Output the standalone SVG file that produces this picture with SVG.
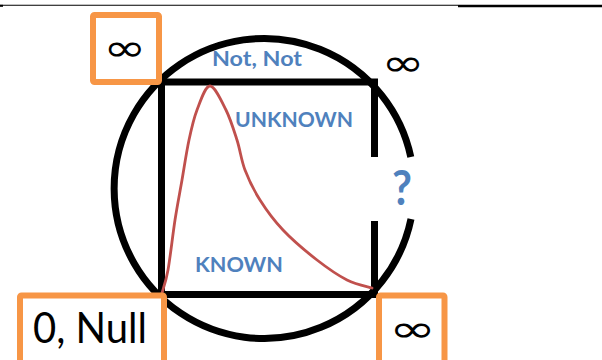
<svg xmlns="http://www.w3.org/2000/svg" width="602" height="360" viewBox="0 0 602 360">
  <style>
    .box { fill: #ffffff; stroke: #F79646; stroke-width: 6; }
    .frame { fill: none; stroke: #000000; stroke-width: 7; stroke-linejoin: miter; }
    .lbl { font-family: Lato, "Open Sans", "Liberation Sans", sans-serif; font-weight: bold; fill: #4F81BD; }
    .inf { font-family: "DejaVu Sans", sans-serif; fill: #000000; text-anchor: middle; }
    .big { font-family: Lato, "Open Sans", "Liberation Sans", sans-serif; fill: #000000; }
  </style>
  <rect width="602" height="360" fill="#ffffff"/>
  <g id="header-rule">
    <line x1="0" y1="5.3" x2="458" y2="5.3" stroke="#000" stroke-width="1.1"/>
    <line x1="0" y1="5.8" x2="3" y2="5.8" stroke="#000" stroke-width="2"/>
    <line x1="458" y1="6" x2="602" y2="6" stroke="#000" stroke-width="2.4"/>
  </g>
  <g id="connectors">
    <path id="circle" class="frame" d="M410.8,157 A150,150 0 1 0 411,219"/>
    <path id="square" class="frame" d="M374.5,157 V82 H161.5 V294.5 H374.5 V221"/>
    <path id="curve" fill="none" stroke="#C0504D" stroke-width="2.8" stroke-linecap="round"
      d="M162,293 C163,289.2 165.8,282.2 168,270 C170.2,257.8 172.7,235 175,220 C177.3,205 179.7,193.3 182,180 C184.3,166.7 186.5,151.7 189,140 C191.5,128.3 193.5,119 197,110 C200.5,101 205.2,86 210,86 C214.8,86 221.5,101 226,110 C230.5,119 233.8,130 237,140 C240.2,150 241.2,160 245,170 C248.8,180 253.7,190 260,200 C266.3,210 273.5,220 283,230 C292.5,240 306.3,251.7 317,260 C327.7,268.3 337.8,275.3 347,280 C356.2,284.7 367.8,286.7 372,288"/>
  </g>
  <g id="label-not-not"><text class="lbl" x="212" y="66" font-size="20" textLength="90" lengthAdjust="spacingAndGlyphs">Not, Not</text></g>
  <g id="label-unknown"><text class="lbl" x="235" y="127" font-size="21" textLength="118" lengthAdjust="spacingAndGlyphs">UNKNOWN</text></g>
  <g id="label-known"><text class="lbl" x="195" y="272" font-size="21" textLength="88" lengthAdjust="spacingAndGlyphs">KNOWN</text></g>
  <g id="label-question"><text class="lbl" x="392" y="205" font-size="47" textLength="20" lengthAdjust="spacingAndGlyphs">?</text></g>
  <g id="node-inf-top-left">
    <rect class="box" x="93" y="15" width="66" height="67" rx="1.5"/>
    <text class="inf" x="124.7" y="60.5" font-size="38" textLength="43" lengthAdjust="spacingAndGlyphs">∞</text>
  </g>
  <g id="node-inf-top-right">
    <text class="inf" x="403" y="75.5" font-size="38" textLength="43" lengthAdjust="spacingAndGlyphs">∞</text>
  </g>
  <g id="node-zero-null">
    <rect class="box" x="20" y="295.5" width="144" height="80" rx="1.5"/>
    <text class="big" x="33" y="343" font-size="42" textLength="114" lengthAdjust="spacingAndGlyphs">0, Null</text>
  </g>
  <g id="node-inf-bottom-right">
    <rect class="box" x="379" y="295.5" width="65.5" height="80" rx="1.5"/>
    <text class="inf" x="412.5" y="341.5" font-size="38" textLength="47" lengthAdjust="spacingAndGlyphs">∞</text>
  </g>
</svg>
